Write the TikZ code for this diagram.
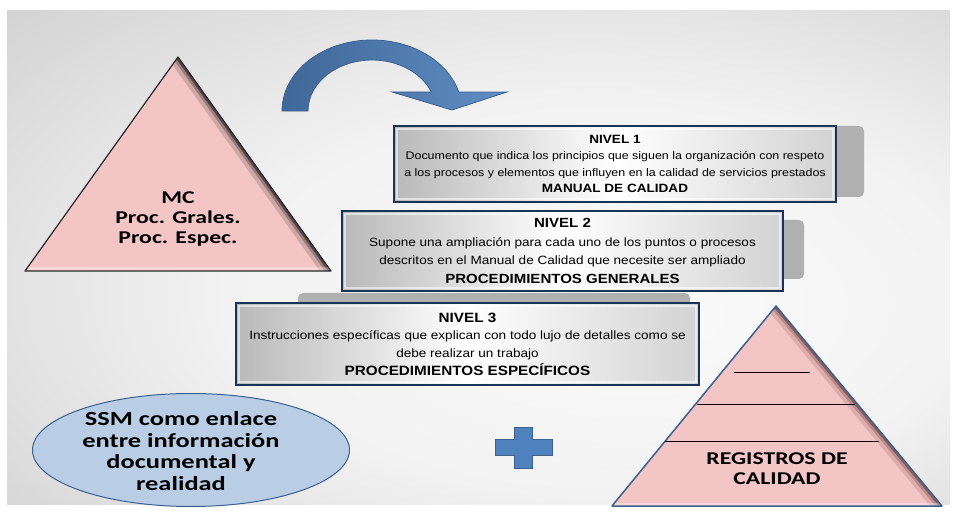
\documentclass[tikz,border=0pt]{standalone}
\usepackage{fontspec}
\setmainfont[FakeStretch=1.13]{Liberation Sans}
\newfontfamily\calfont[FakeStretch=1.32]{Carlito}
\usetikzlibrary{shapes.geometric}
\definecolor{rosa}{HTML}{F3C5C5}
\definecolor{azul}{HTML}{4F81BD}
\definecolor{azuloscuro}{HTML}{3A6190}
\definecolor{celeste}{HTML}{B9CDE5}
\definecolor{marino}{HTML}{1C3358}
\pgfdeclareradialshading{fondo}{\pgfpoint{10bp}{-6bp}}{color(0bp)=(gray!4); color(20bp)=(gray!10); color(60bp)=(gray!60)}

\begin{document}
\begin{tikzpicture}
[x=1pt,y=-1pt,
 nivel/.style={draw=marino,line width=1.8pt,left color=gray!55,right color=gray!35,middle color=white,align=center,inner sep=0pt},
 sombra/.style={fill=gray!62,rounded corners=5pt},
 titulo/.style={font=\calfont\bfseries\fontsize{18}{20}\selectfont,align=center}]
\useasboundingbox (0,0) rectangle (954,513);
\fill[white] (0,0) rectangle (954,513);
\shade[shading=fondo] (7,11) rectangle (950,504);
\fill[rosa] (178,57) -- (25,271) -- (331,271) -- cycle;
\begin{scope}
\clip (178,57) -- (25,271) -- (331,271) -- cycle;
\foreach \w/\o in {18/0.15,10/0.25,5/0.45}
\draw[line width=\w pt,black,opacity=\o] (178,57) -- (331,271);
\draw[line width=7pt,white,opacity=0.3] (25,271) -- (331,271);
\end{scope}
\draw[black!85,line width=1.2pt,line join=round] (178,57) -- (25,271) -- (331,271) -- cycle;
\node[titulo] (mc) at (178,219) {MC\\Proc. Grales.\\Proc. Espec.};
\draw[azuloscuro,line width=.8pt,left color=azul!80!black,right color=azul!90!white]
 (282,111) arc[start angle=180,end angle=344.5,x radius=90,y radius=71]
 -- (507,92) -- (452,110) -- (392,92) -- (431.4,92)
 arc[start angle=338.1,end angle=180,x radius=64,y radius=51] -- cycle;
\fill[sombra] (410,126) rectangle (864,197);
\fill[sombra] (360,220) rectangle (804,279);
\fill[sombra] (298,293) rectangle (690,320);
\node[nivel,minimum width=442,minimum height=76,font=\fontsize{11}{16.3}\selectfont] (n1) at (615,164)
 {{\fontsize{12}{16.3}\selectfont\bfseries NIVEL 1}\\Documento que indica los principios que siguen la organización con respeto\\a los procesos y elementos que influyen en la calidad de servicios prestados\\{\fontsize{12}{16.3}\selectfont\bfseries MANUAL DE CALIDAD}};
\node[nivel,minimum width=441,minimum height=80,font=\fontsize{12}{18.5}\selectfont] (n2) at (562.5,251)
 {{\fontsize{13.3}{18.5}\selectfont\bfseries NIVEL 2}\\Supone una ampliación para cada uno de los puntos o procesos\\descritos en el Manual de Calidad que necesite ser ampliado\\{\fontsize{13.3}{18.5}\selectfont\bfseries PROCEDIMIENTOS GENERALES}};
\node[nivel,minimum width=463,minimum height=82,font=\fontsize{12}{17.7}\selectfont] (n3) at (467.5,344)
 {{\fontsize{13.5}{17.7}\selectfont\bfseries NIVEL 3}\\Instrucciones específicas que explican con todo lujo de detalles como se\\debe realizar un trabajo\\{\fontsize{13.5}{17.7}\selectfont\bfseries PROCEDIMIENTOS ESPECÍFICOS}};
\foreach \n in {n1,n2,n3}
\draw[white,opacity=0.55,line width=1.5pt] ([shift={(4,4)}]\n.north west) rectangle ([shift={(-4,-4)}]\n.south east);
\node[ellipse,draw=azuloscuro,fill=celeste,line width=1pt,minimum width=317,minimum height=113] (ssm) at (191,450) {};
\node[titulo,font=\calfont\bfseries\fontsize{20}{21.7}\selectfont] (ssmt) at (181,451) {SSM como enlace\\entre información\\documental y\\realidad};
\draw[azuloscuro,fill=azul,line width=.8pt] (514,427) -- (532,427) -- (532,439) -- (552,439) -- (552,455) -- (532,455)
 -- (532,468) -- (514,468) -- (514,455) -- (495,455) -- (495,439) -- (514,439) -- cycle;
\fill[rosa] (776,306) -- (612,506) -- (942,506) -- cycle;
\begin{scope}
\clip (776,306) -- (612,506) -- (942,506) -- cycle;
\foreach \w/\o in {18/0.12,10/0.2,5/0.35}
\draw[line width=\w pt,black!80!red,opacity=\o] (776,306) -- (942,506);
\draw[line width=7pt,white,opacity=0.3] (612,506) -- (942,506);
\end{scope}
\draw[azuloscuro,line width=1.5pt,line join=round] (776,306) -- (612,506) -- (942,506) -- cycle;
\foreach \y/\a/\b in {372/734/810,404/697/855,441/665/879}
\draw[black,line width=.9pt] (\a,\y) -- (\b,\y);
\node[titulo] (reg) at (777,469) {REGISTROS DE\\CALIDAD};
\end{tikzpicture}
\end{document}
